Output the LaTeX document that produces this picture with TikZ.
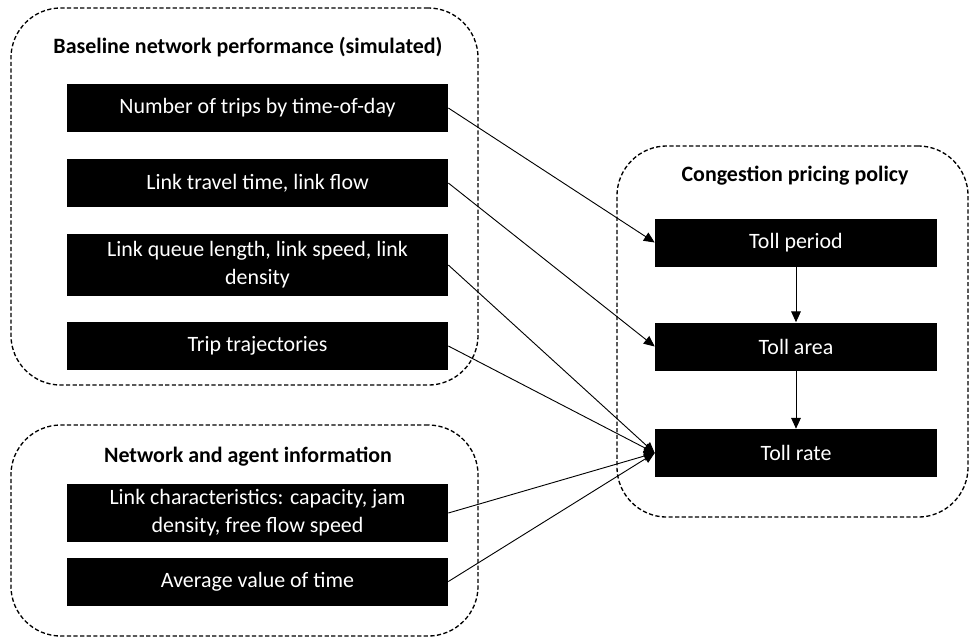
\documentclass[tikz,border=0pt]{standalone}
\usepackage{fontspec}
\setmainfont{Carlito}
\usetikzlibrary{arrows.meta}
\begin{document}
\begin{tikzpicture}[x=0.025cm,y=-0.025cm,
    grp/.style={draw,line width=0.95pt,dash pattern=on 3pt off 1.7pt,
      rounded corners=1.25cm,inner sep=0pt},
    blk/.style={fill=black,text=white,align=center,inner sep=0pt,
      minimum width=9.525cm,minimum height=1.2cm,
      font=\fontsize{15.6}{19.8}\selectfont},
    ttl/.style={font=\fontsize{15.6}{19.8}\selectfont\bfseries},
    arr/.style={line width=0.65pt,-{Triangle[length=0.27cm,width=0.24cm]}}]
  \useasboundingbox (0,0) rectangle (971,641);
  % dashed groups
  \node[grp,minimum width=11.675cm,minimum height=9.425cm] (base) at (244.5,196.5) {};
  \node[grp,minimum width=11.675cm,minimum height=5.275cm] (info) at (244.5,530.5) {};
  \node[grp,minimum width=8.775cm,minimum height=9.275cm] (policy) at (792.5,331.5) {};
  \node[ttl] (tbase) at (248,47) {Baseline network performance (simulated)};
  \node[ttl] (tinfo) at (248,457) {Network and agent information};
  \node[ttl] (tpolicy) at (795,176) {Congestion pricing policy};
  % inputs
  \node[blk] (trips) at (257.5,108) {Number of trips by time-of-day};
  \node[blk] (travel) at (257.5,183) {Link travel time, link flow};
  \node[blk,minimum height=1.55cm] (queue) at (257.5,265) {Link queue length, link speed, link\\density};
  \node[blk] (traj) at (257.5,346) {Trip trajectories};
  \node[blk,minimum height=1.45cm] (chars) at (257.5,513) {Link characteristics: capacity, jam\\density, free flow speed};
  \node[blk] (vot) at (257.5,581.5) {Average value of time};
  % policy
  \node[blk,minimum width=7.05cm] (period) at (796,242.5) {Toll period};
  \node[blk,minimum width=7.05cm] (area) at (796,346.5) {Toll area};
  \node[blk,minimum width=7.05cm] (rate) at (796,453) {Toll rate};
  \begin{scope}[arr]
    \draw (trips.east) -- (period.west);
    \draw (travel.east) -- (area.west);
    \draw (queue.east) -- (rate.west);
    \draw (traj.east) -- (rate.west);
    \draw (chars.east) -- (rate.west);
    \draw (vot.east) -- (rate.west);
    \draw (period) -- (area);
    \draw (area) -- (rate);
  \end{scope}
\end{tikzpicture}
\end{document}
